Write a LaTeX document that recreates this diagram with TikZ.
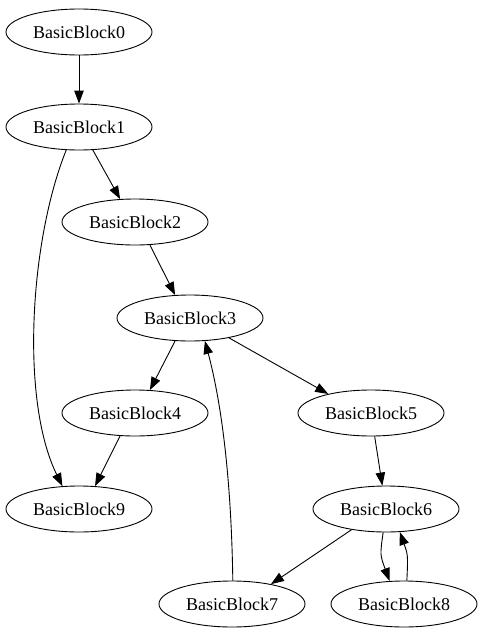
\documentclass[tikz,border=0pt]{standalone}
\usepackage{fontspec}
\setmainfont{Liberation Serif}
\usetikzlibrary{shapes.geometric,arrows.meta}
\begin{document}
\begin{tikzpicture}[x=1pt,y=-1pt,
  bb/.style={draw,ellipse,minimum width=146pt,minimum height=46pt,inner sep=0pt,font=\fontsize{18}{20}\selectfont,line width=0.9pt},
  edge/.style={draw,line width=0.9pt,-{Triangle[length=13pt,width=9.5pt]}}]
\useasboundingbox (0,0) rectangle (482,635);
\node[bb] (b0) at (79,32) {BasicBlock0};
\node[bb] (b1) at (79,127) {BasicBlock1};
\node[bb] (b2) at (135,222) {BasicBlock2};
\node[bb] (b3) at (190,318) {BasicBlock3};
\node[bb] (b4) at (135,413) {BasicBlock4};
\node[bb] (b5) at (371,413) {BasicBlock5};
\node[bb] (b9) at (79,509) {BasicBlock9};
\node[bb] (b6) at (386,509) {BasicBlock6};
\node[bb] (b7) at (232,604) {BasicBlock7};
\node[bb] (b8) at (404,604) {BasicBlock8};
\path[edge] (b0) -- (b1);
\path[edge] (b1.-59) -- (b2.123);
\path[edge] (b1.-119) .. controls (30,240) and (20,400) .. (b9.126);
\path[edge] (b2.-57) -- (b3.123);
\path[edge] (b3.-123) -- (b4.57);
\path[edge] (b3.-27) -- (b5.156);
\path[edge] (b4.-123) -- (b9.55);
\path[edge] (b5) -- (b6);
\path[edge] (b6.-149) -- (b7.27);
\path[edge] (b6.-97) .. controls (380,555) .. (b8.122);
\path[edge] (b8.83) .. controls (408,555) .. (b6.-59);
\path[edge] (b7.88) .. controls (231,460) and (218,390) .. (b3.-57);
\end{tikzpicture}
\end{document}
